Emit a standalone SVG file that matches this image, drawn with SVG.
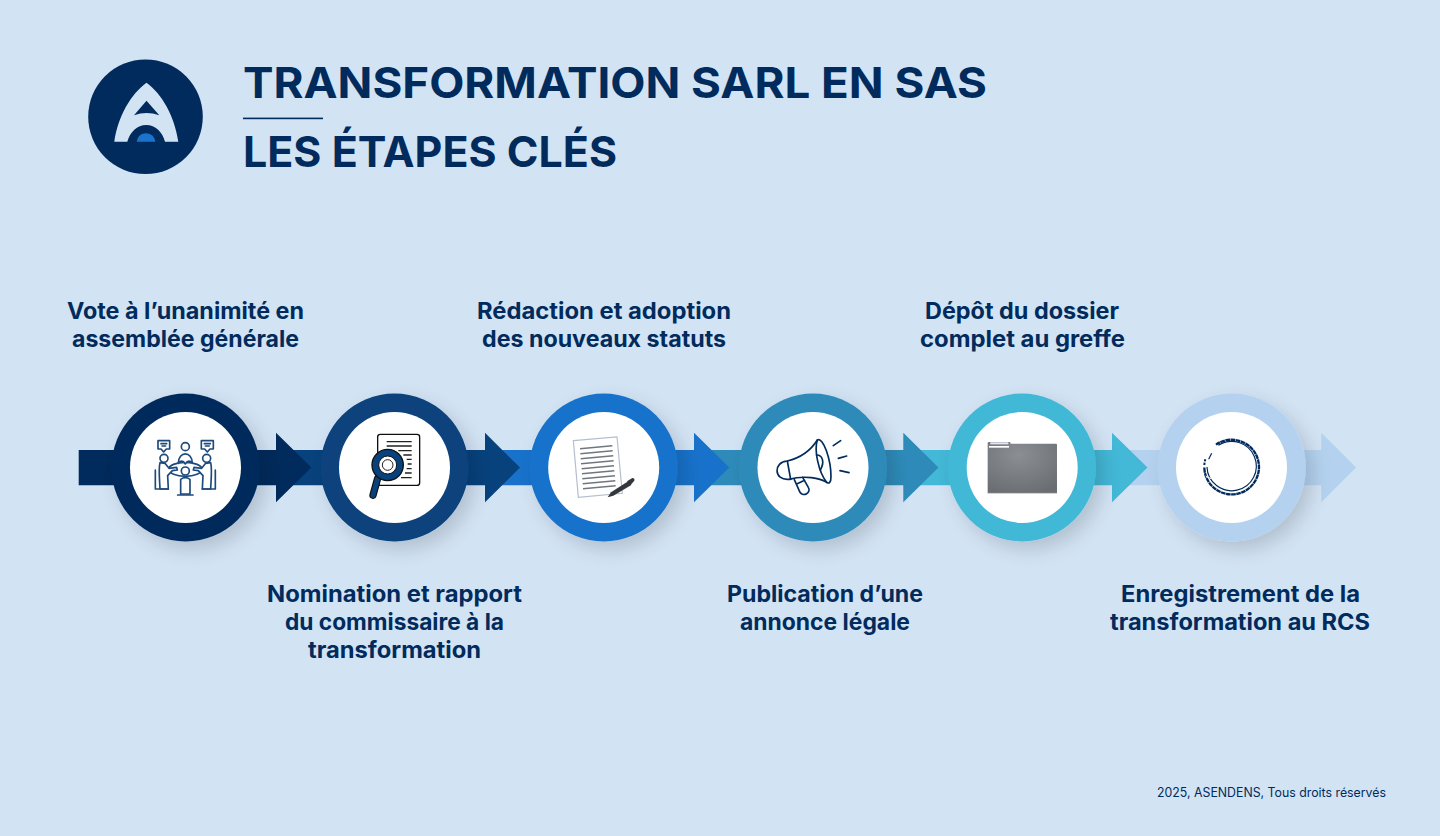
<svg xmlns="http://www.w3.org/2000/svg" width="1440" height="836" viewBox="0 0 1440 836">
<style>
.t{font-family:"Inter","Liberation Sans",sans-serif;font-weight:700;fill:#012b5c;font-size:43px}
.l{font-family:"Inter","Liberation Sans",sans-serif;font-weight:700;fill:#012b5c;font-size:22.5px}
.f{font-family:"Inter","Liberation Sans",sans-serif;font-weight:400;fill:#012b5c;font-size:12.5px}
.ring{filter:url(#sh)}
.in{fill:#fff}
.s{fill:none;stroke-linecap:round;stroke-linejoin:round}
.m{stroke:#1d4a7c;stroke-width:5}
.p{stroke:#012b5c;stroke-width:5}
</style>
<defs>
<filter id="sh" x="-30%" y="-30%" width="170%" height="170%"><feGaussianBlur in="SourceAlpha" stdDeviation="10"/><feOffset dx="7" dy="8"/><feComponentTransfer><feFuncA type="linear" slope="0.16"/></feComponentTransfer><feMerge><feMergeNode/><feMergeNode in="SourceGraphic"/></feMerge></filter>
<radialGradient id="fg" cx="45%" cy="25%" r="80%"><stop offset="0" stop-color="#8b8f93"/><stop offset="1" stop-color="#6a6e72"/></radialGradient>
</defs>
<rect width="1440" height="836" fill="#d2e3f4"/>
<g id="logo">
<circle cx="145.500" cy="116.700" r="57.300" fill="#012b5c"/>
<path d="M146.500 82.700C131 94 118 116 114.300 141.700H127.300C130 132 137 125 146.300 125C155.500 125 162.500 132 165 141.700H178.300C174.500 116 162 94 146.500 82.700Z" fill="#d2e3f4"/>
<path d="M146.500 100.700L134 115.300Q146.500 110.500 159.300 115.300Z" fill="#012b5c"/>
<path d="M136.700 141.700C137.500 136 141.500 133.300 146 133.300C150.500 133.300 154.500 136 155.300 141.700Z" fill="#1a73cc"/>
</g>
<g id="title">
<text class="t" x="243" y="97.500" textLength="744" lengthAdjust="spacingAndGlyphs">TRANSFORMATION SARL EN SAS</text>
<rect x="243" y="117.600" width="80" height="1.600" fill="#012b5c"/>
<text class="t" x="243" y="167" textLength="374" lengthAdjust="spacingAndGlyphs">LES ÉTAPES CLÉS</text>
</g>
<g id="connectors">
<path fill="#b4d2ef" d="M1112 450H1321.300V432.700L1356 467.600L1321.300 502.300V485.300H1112Z"/>
<path fill="#43b8d7" d="M903 450H1112V432.700L1147.500 467.600L1112 502.300V485.300H903Z"/>
<path fill="#2e8bb9" d="M694 450H903.300V432.700L938.500 467.600L903.300 502.300V485.300H694Z"/>
<path fill="#1872cb" d="M485 450H694V432.700L729.300 467.600L694 502.300V485.300H485Z"/>
<path fill="#07427d" d="M276 450H485V432.700L520 467.600L485 502.300V485.300H276Z"/>
<path fill="#012b5c" d="M78.700 450H276V432.700L311.300 467.600L276 502.300V485.300H78.700Z"/>
</g>
<g id="step1">
<circle class="ring" cx="185.500" cy="467.500" r="74" fill="#012b5c"/><circle class="in" cx="185.500" cy="467.500" r="55.500"/>
<g transform="translate(125 410) scale(.3333)" class="s m">
<path d="M99 92H134V117H124L116 126L108 117H99ZM108 101H125M111 108H122M229 92H265V117H255L247 126L239 117H229ZM238 101H256M241 108H253"/>
<ellipse cx="181" cy="178" rx="50" ry="21" fill="#fff"/>
<circle cx="181" cy="110" r="12"/><circle cx="117" cy="145" r="12"/><circle cx="245" cy="145" r="12"/>
<path fill="#fff" d="M160 160C160 122 202 122 202 160C196 152 188 150 181 162C174 150 166 152 160 160Z"/>
<path fill="#fff" d="M105 158C100 178 104 210 105 237H130L128 197L142 182L157 180L155 172L132 175L120 160Z"/>
<path fill="#fff" d="M257 158C262 178 258 210 257 237H232L234 197L220 182L205 180L207 172L230 175L242 160Z"/>
<path d="M91 180V237H105M271 180V237H257M91 237H130M232 237H271"/>
<path fill="#fff" d="M167 252V208Q181 198 195 208V252Z"/>
<path d="M158 255H204"/>
<circle cx="181" cy="183" r="12" fill="#fff"/>
</g></g>
<g id="step2">
<circle class="ring" cx="394.500" cy="467.500" r="74" fill="#07427d"/><circle class="in" cx="394.500" cy="467.500" r="55.500"/>
<g transform="translate(335 410) scale(.3333)">
<rect x="128" y="73" width="126" height="153" rx="8" fill="#fff" stroke="#111" stroke-width="4"/>
<path stroke="#222" stroke-width="4" fill="none" d="M155 95H230M155 108H230M190 122H230M205 135H230M215 148H230M218 162H230M215 176H230M210 189H230M198 203H230"/>
<path d="M128 205L114 256" stroke="#111" stroke-width="22" stroke-linecap="round"/>
<path d="M128 205L114 256" stroke="#07427d" stroke-width="15" stroke-linecap="round"/>
<circle cx="158" cy="165" r="47" fill="#07427d" stroke="#111" stroke-width="4"/>
<circle cx="158" cy="165" r="27" fill="#fff" stroke="#111" stroke-width="3"/>
<circle cx="158" cy="165" r="16" fill="#fff" stroke="#222" stroke-width="3"/>
</g></g>
<g id="step3">
<circle class="ring" cx="603.700" cy="467.500" r="74" fill="#1872cb"/><circle class="in" cx="603.700" cy="467.500" r="55.500"/>
<g transform="translate(545 410) scale(.3333)">
<path d="M85 92L216 81L232 250L100 262Z" fill="#fff" stroke="#b3bfce" stroke-width="3.500"/>
<path stroke="#70777f" stroke-width="4.500" fill="none" d="M105 116L202 107M106 131L203 122M107 146L205 137M108 161L206 152M110 176L207 167M111 191L208 182M112 206L210 197M113 221L211 212M114 236L212 227"/>
<path d="M188 262L198 247L252 212L259 225L205 257Z" fill="#33363a"/>
<path d="M246 214L262 204Q270 204 268 212L256 226Z" fill="#33363a"/>
</g></g>
<g id="step4">
<circle class="ring" cx="813" cy="467.500" r="74" fill="#2e8bb9"/><circle class="in" cx="813" cy="467.500" r="55.500"/>
<g transform="translate(755 410) scale(.3333)" class="s p">
<path d="M97 153C130 145 165 125 187 90C205 80 228 150 228 200C228 218 222 222 215 217C195 205 150 195 102 208C55 212 55 155 97 153Z"/>
<path d="M187 90C177 120 190 185 215 217M97 153L107 208"/>
<path d="M185 135C202 135 210 155 196 180"/>
<path d="M118 209L135 247C145 262 170 248 160 232L143 202M125 222L149 211"/>
<path d="M235 107L257 92M250 145L275 138M255 182L282 188"/>
</g></g>
<g id="step5">
<circle class="ring" cx="1022" cy="467.500" r="74" fill="#43b8d7"/><circle class="in" cx="1022.200" cy="467.500" r="55.500"/>
<g transform="translate(965 410) scale(.3333)">
<path d="M68 250V99Q68 96 71 96H134Q137 96 137 101H273Q276 101 276 104V250Z" fill="url(#fg)"/>
<path d="M68 250H276" stroke="#c3c8ce" stroke-width="2"/>
<rect x="76" y="97" width="54" height="6" fill="#e4e8f2"/><rect x="72" y="108" width="60" height="5" fill="#fff"/>
</g></g>
<g id="step6">
<circle class="ring" cx="1231.800" cy="467.500" r="74" fill="#b4d2ef"/><circle class="in" cx="1231.500" cy="467.500" r="55.500"/>
<g transform="translate(1175 410) scale(.3333)" fill="none" stroke="#012b5c">
<path stroke-width="7" stroke-dasharray="14 1.500" d="M123 104A82 82 0 1 1 88 171"/>
<path stroke-width="6" stroke-dasharray="7 4" d="M88 165A82 82 0 0 1 91 148"/>
<path stroke-width="3.500" d="M130 106A74 74 0 1 1 96 171"/>
<path stroke-width="3.500" d="M101 148L110 130"/>
<path stroke="#fff" stroke-width="3" d="M92 198L108 206"/>
</g></g>
<g id="labels">
<text class="l" x="67" y="319" textLength="237" lengthAdjust="spacingAndGlyphs">Vote à l’unanimité en</text>
<text class="l" x="72" y="347" textLength="227" lengthAdjust="spacingAndGlyphs">assemblée générale</text>
<text class="l" x="267" y="602" textLength="255" lengthAdjust="spacingAndGlyphs">Nomination et rapport</text>
<text class="l" x="285" y="630" textLength="219" lengthAdjust="spacingAndGlyphs">du commissaire à la</text>
<text class="l" x="308" y="658" textLength="173" lengthAdjust="spacingAndGlyphs">transformation</text>
<text class="l" x="477" y="319" textLength="254" lengthAdjust="spacingAndGlyphs">Rédaction et adoption</text>
<text class="l" x="482" y="347" textLength="244" lengthAdjust="spacingAndGlyphs">des nouveaux statuts</text>
<text class="l" x="727" y="602" textLength="196" lengthAdjust="spacingAndGlyphs">Publication d’une</text>
<text class="l" x="740" y="630" textLength="170" lengthAdjust="spacingAndGlyphs">annonce légale</text>
<text class="l" x="925" y="319" textLength="194" lengthAdjust="spacingAndGlyphs">Dépôt du dossier</text>
<text class="l" x="920" y="347" textLength="205" lengthAdjust="spacingAndGlyphs">complet au greffe</text>
<text class="l" x="1121" y="602" textLength="239" lengthAdjust="spacingAndGlyphs">Enregistrement de la</text>
<text class="l" x="1110" y="630" textLength="260" lengthAdjust="spacingAndGlyphs">transformation au RCS</text>
</g>
<text class="f" x="1157" y="797" textLength="229" lengthAdjust="spacingAndGlyphs">2025, ASENDENS, Tous droits réservés</text>
</svg>
